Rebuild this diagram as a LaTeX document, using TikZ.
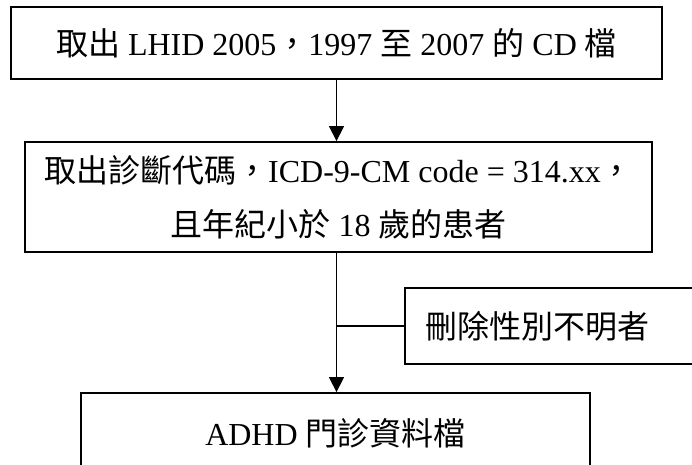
\documentclass[tikz,border=0pt]{standalone}
\usepackage{fontspec}
\setmainfont{Liberation Serif}
\newfontfamily\cjk{Noto Sans CJK TC}
\usetikzlibrary{arrows.meta}
\begin{document}
\begin{tikzpicture}[x=1pt,y=-1pt,
  box/.style={draw, line width=1.8pt, inner sep=0pt,
    font=\fontsize{32}{54}\selectfont, align=center},
  link/.style={line width=1.4pt},
  flow/.style={link, -{Triangle[length=15pt,width=15pt]}}]
\useasboundingbox (0,0) rectangle (692,464);
\clip (0,0) rectangle (692,464);

% main steps
\node[box, minimum width=651pt, minimum height=72pt] (src) at (336.5,43)
  {{\cjk 取出} LHID 2005{\cjk ，}1997 {\cjk 至} 2007 {\cjk 的} CD {\cjk 檔}};
\node[box, minimum width=627pt, minimum height=110pt] (sel) at (338.5,197)
  {{\cjk 取出診斷代碼，}ICD-9-CM code = 314.xx{\cjk ，}\\
   {\cjk 且年紀小於} 18 {\cjk 歲的患者}};
\node[box, minimum width=509pt, minimum height=80pt] (out) at (335.5,433)
  {ADHD {\cjk 門診資料檔}};

% exclusion box on the side
\node[box, anchor=west, inner xsep=21pt, text width=300pt, align=left,
  minimum height=76pt] (drop) at (404,326) {{\cjk 刪除性別不明者}};

% connectors
\draw[flow] (src.south) -- (src.south |- sel.north);
\draw[flow] (sel.south -| src.south) -- (src.south |- out.north);
\draw[link] (drop.west) -- (drop.west -| src.south);
\end{tikzpicture}
\end{document}
